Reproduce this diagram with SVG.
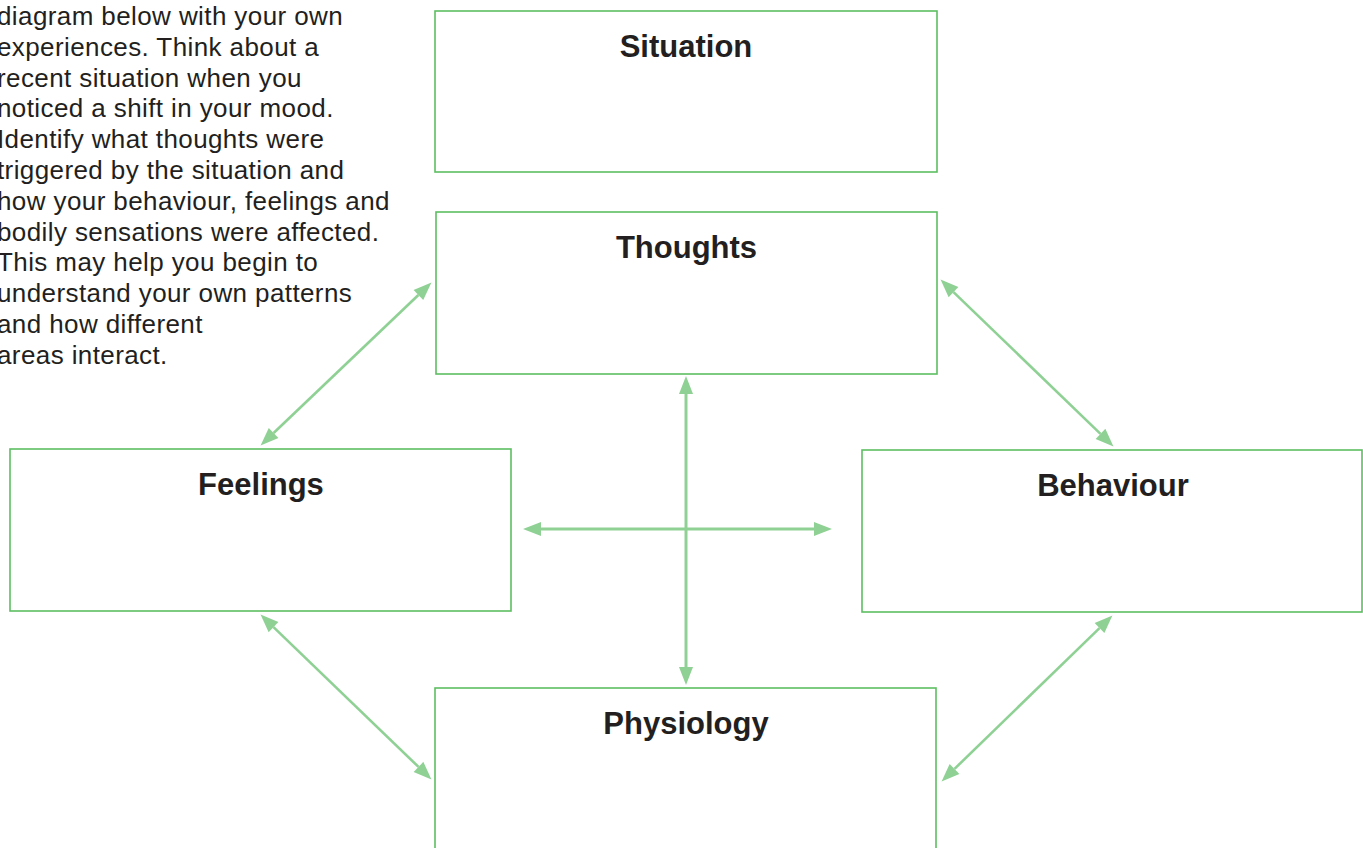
<svg xmlns="http://www.w3.org/2000/svg" width="1363" height="848" viewBox="0 0 1363 848">
<style>
.box{fill:#fff;stroke:#5cbf62;stroke-width:1.6}
.title{font-family:"Liberation Sans",Arial,sans-serif;font-weight:bold;font-size:31px;fill:#231f20;text-anchor:middle}
.para{font-family:"Liberation Sans",Arial,sans-serif;font-size:26px;letter-spacing:0.4px;fill:#231f20}
.conn{stroke:#8fd194;stroke-width:3;fill:none;marker-start:url(#ah);marker-end:url(#ah)}
.diag{stroke-width:2.6}
</style>
<defs>
<marker id="ah" markerUnits="userSpaceOnUse" markerWidth="18" markerHeight="14" refX="0" refY="7" orient="auto-start-reverse" overflow="visible">
<path d="M0,0 L18,7 L0,14 z" fill="#8fd194"/>
</marker>
</defs>
<rect width="1363" height="848" fill="#fff"/>
<g id="intro" class="para">
<text x="-3" y="25">diagram below with your own</text>
<text x="-3" y="55.8">experiences. Think about a</text>
<text x="-3" y="86.6">recent situation when you</text>
<text x="-3" y="117.4">noticed a shift in your mood.</text>
<text x="-3" y="148.2">Identify what thoughts were</text>
<text x="-3" y="179">triggered by the situation and</text>
<text x="-3" y="209.8">how your behaviour, feelings and</text>
<text x="-3" y="240.6">bodily sensations were affected.</text>
<text x="-3" y="271.4">This may help you begin to</text>
<text x="-3" y="302.2">understand your own patterns</text>
<text x="-3" y="333">and how different</text>
<text x="-3" y="363.8">areas interact.</text>
</g>
<g id="connectors">
<line class="conn diag" x1="273.6" y1="433" x2="418.4" y2="295"/>
<line class="conn diag" x1="953.5" y1="292.1" x2="1100.5" y2="433.9"/>
<line class="conn" x1="686" y1="394" x2="686" y2="667"/>
<line class="conn" x1="541" y1="529" x2="814" y2="529"/>
<line class="conn diag" x1="273.5" y1="627.1" x2="418.5" y2="766.9"/>
<line class="conn diag" x1="1099.5" y1="628.1" x2="954.5" y2="768.9"/>
</g>
<g id="situation">
<rect class="box" x="435" y="11" width="502" height="161"/>
<text class="title" x="686" y="57">Situation</text>
</g>
<g id="thoughts">
<rect class="box" x="436" y="212" width="501" height="162"/>
<text class="title" x="686.5" y="258">Thoughts</text>
</g>
<g id="feelings">
<rect class="box" x="10" y="449" width="501" height="162"/>
<text class="title" x="261" y="495">Feelings</text>
</g>
<g id="behaviour">
<rect class="box" x="862" y="450" width="500" height="162"/>
<text class="title" x="1113" y="496">Behaviour</text>
</g>
<g id="physiology">
<rect class="box" x="435" y="688" width="501" height="170"/>
<text class="title" x="686" y="734">Physiology</text>
</g>
</svg>
